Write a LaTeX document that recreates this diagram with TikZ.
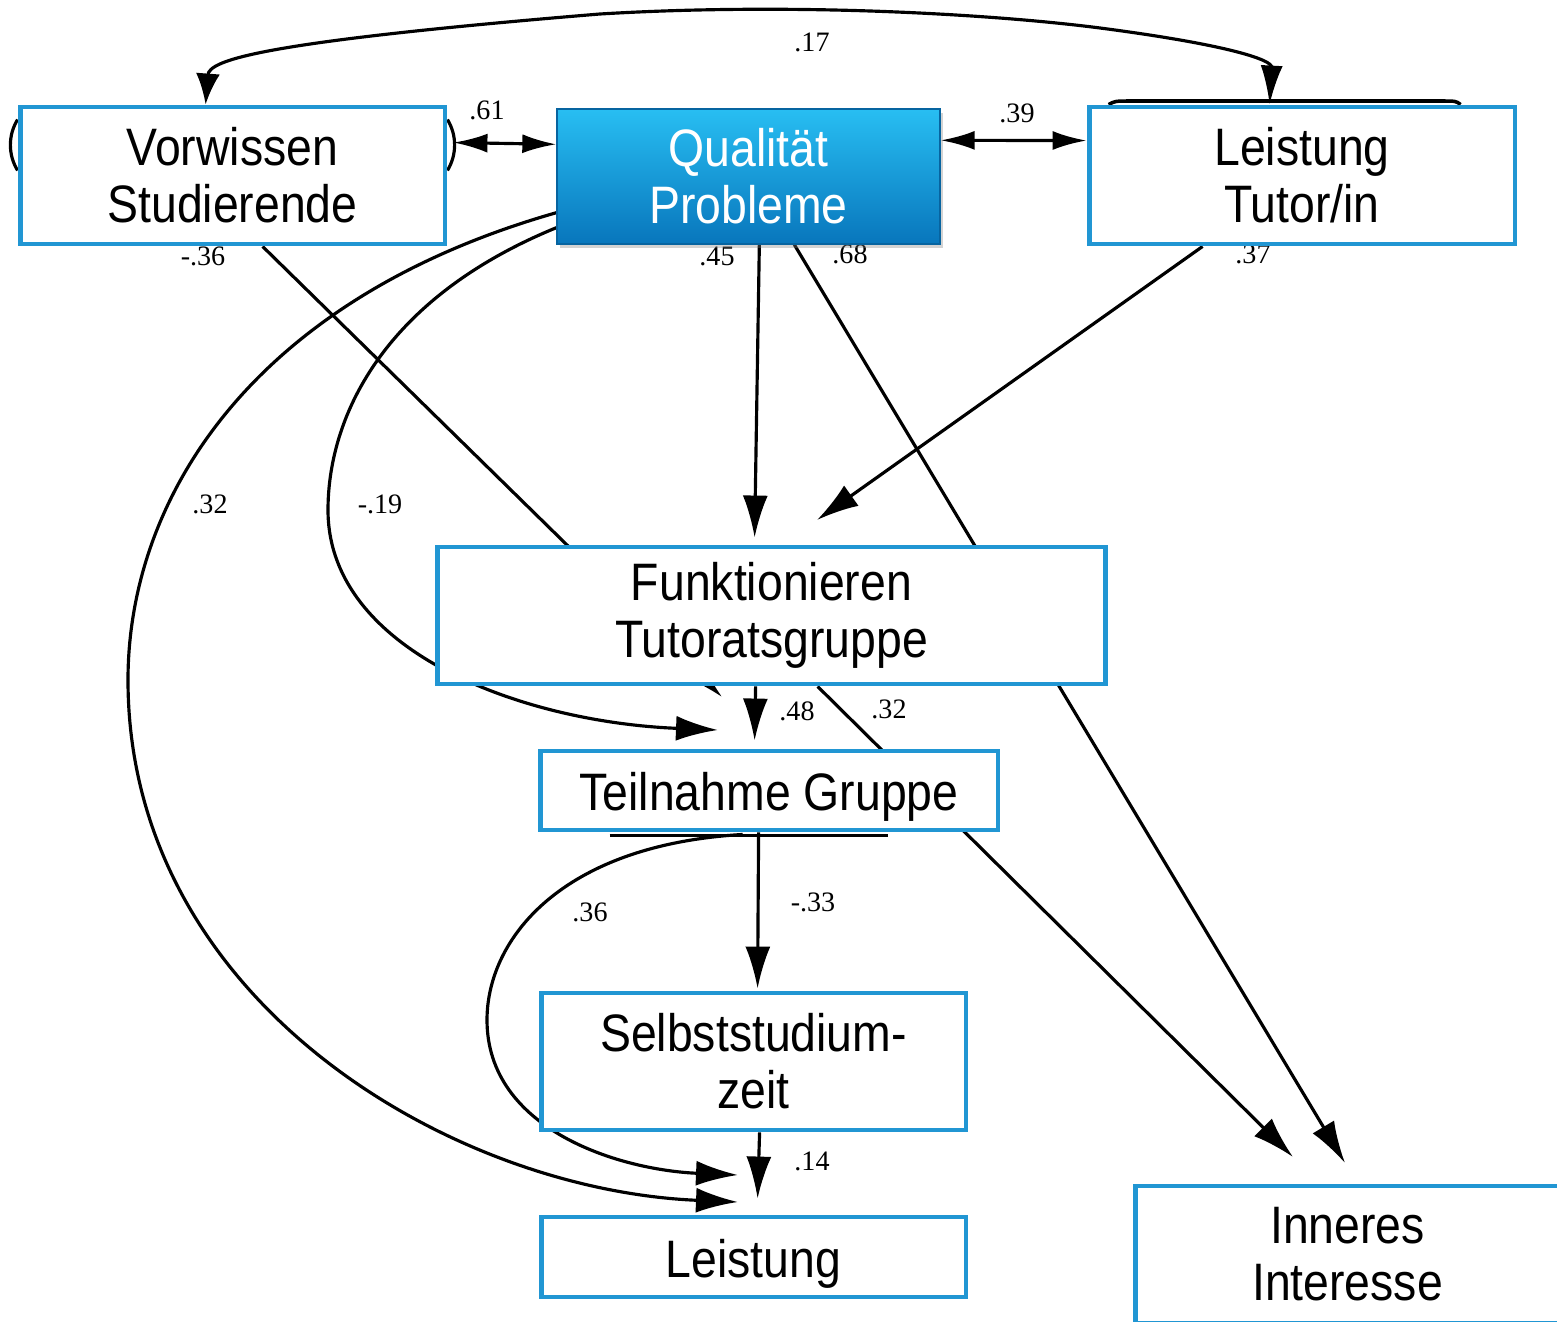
\documentclass[tikz,border=0pt]{standalone}
\usepackage{fontspec}
\setmainfont{Liberation Sans}
\newfontfamily\boxfont[FakeStretch=0.88]{Liberation Sans}
\newfontfamily\numfont{Liberation Serif}
\usetikzlibrary{arrows.meta,calc,shadows}
\definecolor{boxblue}{RGB}{33,150,211}
\definecolor{qtop}{RGB}{40,190,242}
\definecolor{qbot}{RGB}{8,118,188}
\pgfdeclarelayer{bg}
\pgfsetlayers{bg,main}
\tikzset{
 box/.style={draw=boxblue, line width=2.8pt, fill=white, align=center, inner sep=0pt,
   font=\boxfont\fontsize{30}{32.4}\selectfont},
 onebox/.style={box, text height=0.8cm, text depth=0pt},
 qbox/.style={draw=qbot!85!black, line width=0.8pt, top color=qtop, bottom color=qbot,
   text=white, align=center, inner sep=0pt, font=\boxfont\fontsize{30}{32.4}\selectfont,
   drop shadow={shadow xshift=1.5pt, shadow yshift=-2.5pt, opacity=0.35}},
 conn/.style={line width=1.8pt},
 arr/.style={conn, -{Latex[length=0.84cm,width=0.5cm]}},
 darr/.style={conn, {Latex[length=0.68cm,width=0.38cm]}-{Latex[length=0.68cm,width=0.38cm]}},
 lbl/.style={font=\numfont\fontsize{16}{16}\selectfont, inner sep=0pt},
}
\begin{document}
\begin{tikzpicture}[x=0.02cm,y=-0.02cm]
\useasboundingbox (0,0) rectangle (1557,1321);

% boxes
\node[box, minimum width=8.5cm, minimum height=2.74cm] (vw) at (232.5,175.5) {Vorwissen\\Studierende};
\node[qbox, minimum width=7.66cm, minimum height=2.7cm] (qp) at (748.5,176.5) {Qualität\\Probleme};
\node[box, minimum width=8.52cm, minimum height=2.74cm] (lt) at (1302,175.5) {Leistung\\Tutor/in};
\node[box, minimum width=13.38cm, minimum height=2.74cm] (ft) at (771.5,615.5) {Funktionieren\\Tutoratsgruppe};
\node[onebox, minimum width=9.16cm, minimum height=1.58cm] (tg) at (769,790.5) {Teilnahme Gruppe};
\node[box, minimum width=8.5cm, minimum height=2.74cm] (ss) at (753.5,1061.5) {Selbststudium-\\zeit};
\node[onebox, minimum width=8.5cm, minimum height=1.6cm] (le) at (753.5,1257) {Leistung};
\node[box, minimum width=8.5cm, minimum height=2.74cm] (ii) at (1347.5,1254.5) {Inneres\\Interesse};

% free ends
\coordinate (e36) at (722,697);
\coordinate (e68) at (1345,1163);
\coordinate (e37) at (817,520);
\coordinate (e32b) at (1293,1157);
\coordinate (e19) at (718,730);
\coordinate (e32) at (738,1202);
\coordinate (e36b) at (738,1175);

\begin{pgfonlayer}{bg}
% remnants
\draw[conn] ($(vw.north west)+(0,15)$) .. controls (8,135) and (8,155) .. ($(vw.south west)+(0,-76)$);
\draw[conn] ($(vw.north east)+(0,15)$) .. controls (457,135) and (457,155) .. ($(vw.south east)+(0,-76)$);
\draw[line width=2pt] ($(lt.north west)+(22,0)$) .. controls (1115,101) .. (1132,101) -- (1440,101) .. controls (1456,101) .. ($(lt.north west)+(374,0)$);
\draw[line width=1.4pt] ($(tg.south west)+(72,3)$) -- ($(tg.south west)+(350,3)$);

% connectors
\draw[conn, {Latex[length=0.62cm,width=0.48cm]}-{Latex[length=0.78cm,width=0.44cm]}]
  ($(vw.north west)+(188,0)$) .. controls (209,60) and (260,42) .. (600,14)
  .. controls (800,2) and (1000,15) .. (1100,28)
  .. controls (1230,45) and (1272,60) .. ($(lt.north west)+(183,0)$);
\draw[darr] ($(vw.north east)+(6,38)$) -- ($(qp.north west)+(0,36)$);
\draw[darr] ($(qp.north east)+(0,32)$) -- ($(lt.north west)+(0,36)$);
\draw[arr] ($(vw.south west)+(245,0)$) -- (e36);
\draw[arr] ($(qp.south west)+(203,0)$) -- ($(ft.north west)+(320,-7)$);
\draw[arr] ($(qp.south west)+(238,0)$) -- (e68);
\draw[arr] ($(lt.south west)+(116,0)$) -- (e37);
\draw[arr] ($(ft.south west)+(321,0)$) -- ($(tg.north west)+(217,-8)$);
\draw[arr] ($(ft.south west)+(383,0)$) -- (e32b);
\draw[arr] ($(qp.south west)+(0,-17)$) .. controls (380,300) and (328,420) .. (328,510)
  .. controls (328,650) and (520,722) .. (e19);
\draw[arr] ($(qp.south west)+(0,-32)$) .. controls (250,300) and (128,500) .. (128,680)
  .. controls (128,1000) and (450,1190) .. (e32);
\draw[arr] ($(tg.south west)+(205,2)$) .. controls (560,845) and (487,940) .. (487,1020)
  .. controls (487,1130) and (620,1170) .. (e36b);
\draw[arr] ($(tg.south west)+(221,0)$) -- ($(ss.north west)+(219,-2)$);
\draw[arr] ($(ss.south west)+(221,0)$) -- ($(le.north west)+(219,-16)$);

% labels
\node[lbl] (l17) at (812,42) {.17};
\node[lbl] (l61) at (487,110) {.61};
\node[lbl] (l39) at (1017,113) {.39};
\node[lbl] (l36) at (203,256) {-.36};
\node[lbl] (l45) at (717,256) {.45};
\node[lbl] (l68) at (850,254) {.68};
\node[lbl] (l37) at (1253,254) {.37};
\node[lbl] (l32) at (210,504) {.32};
\node[lbl] (l19) at (380,504) {-.19};
\node[lbl] (l48) at (797,711) {.48};
\node[lbl] (l32b) at (889,709) {.32};
\node[lbl] (l36b) at (590,912) {.36};
\node[lbl] (l33) at (813,902) {-.33};
\node[lbl] (l14) at (812,1161) {.14};
\end{pgfonlayer}
\end{tikzpicture}
\end{document}
